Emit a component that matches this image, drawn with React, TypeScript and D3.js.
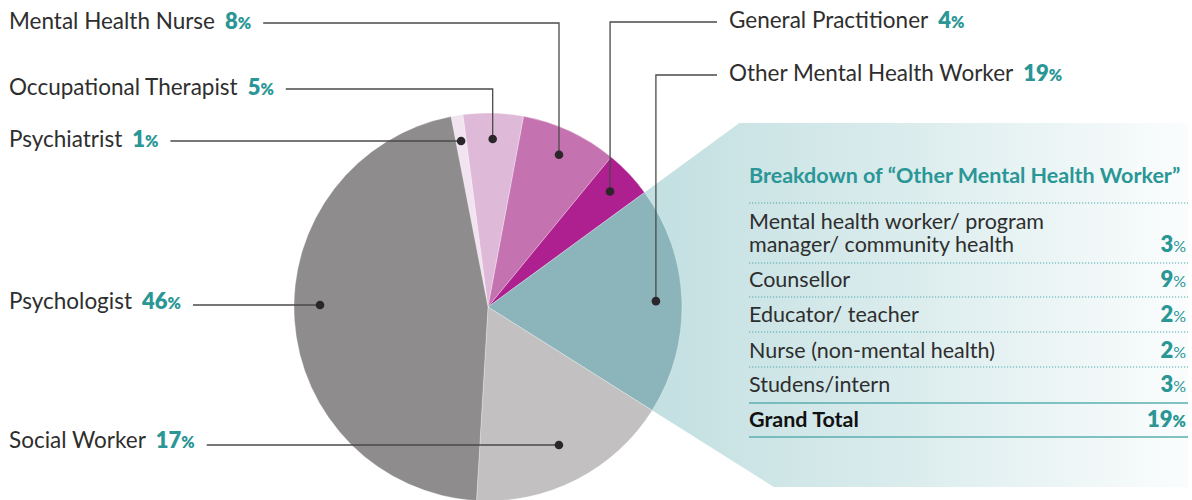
import React, { useEffect, useRef } from "react";
import * as d3 from "d3";

// ---------- data ----------
const categories = [
  "Psychiatrist",
  "Occupational Therapist",
  "Mental Health Nurse",
  "General Practitioner",
  "Other Mental Health Worker",
  "Social Worker",
  "Psychologist",
];
const shares = [1, 5, 8, 4, 19, 17, 46];

const breakdownTitle = "Breakdown of \u201COther Mental Health Worker\u201D";
const breakdownLabels = [
  ["Mental health worker/ program", "manager/ community health"],
  ["Counsellor"],
  ["Educator/ teacher"],
  ["Nurse (non-mental health)"],
  ["Studens/intern"],
];
const breakdownValues = [3, 9, 2, 2, 3];
const totalLabel = "Grand Total";
const totalValue = 19;

// ---------- styles / layout ----------
const sliceColors = ["#f1e3ef", "#dfb9d8", "#c573b0", "#ae1f8f", "#8bb5bb", "#c2c0c1", "#8e8c8d"];
const W = 1192;
const H = 500;
const CX = 488;
const CY = 307;
const R = 194;
const DOT_R = 168;
const START_DEG = -11;
const TEAL = "#2a9696";
const FONT = "Lato, 'Open Sans', sans-serif";
const TEXT_COLOR = "#2e2e2e";

// label layout per category (same order as categories)
const labelLayout = [
  { side: "left", baseline: 147, lineY: 141, mode: "h" },
  { side: "left", baseline: 95, lineY: 89, mode: "v" },
  { side: "left", baseline: 29, lineY: 23, mode: "v" },
  { side: "right", baseline: 28, lineY: 22, mode: "v" },
  { side: "right", baseline: 81, lineY: 75, mode: "v" },
  { side: "left", baseline: 448, lineY: 445, mode: "h" },
  { side: "left", baseline: 309, lineY: 305, mode: "h" },
];
const LEFT_X = 9;
const RIGHT_X = 729;

export default function App() {
  const ref = useRef<SVGSVGElement | null>(null);

  useEffect(() => {
    const svg = d3.select(ref.current);
    svg.selectAll("*").remove();

    const data = categories.map((c, i) => ({ name: c, value: shares[i], color: sliceColors[i], layout: labelLayout[i] }));
    const s = (START_DEG * Math.PI) / 180;
    const pie = d3
      .pie<any>()
      .sort(null)
      .value((d: any) => d.value)
      .startAngle(s)
      .endAngle(s + 2 * Math.PI);
    const arcs = pie(data);
    const arc = d3.arc<any>().innerRadius(0).outerRadius(R);

    // gradient
    const defs = svg.append("defs");
    const grad = defs
      .append("linearGradient")
      .attr("id", "panelGrad")
      .attr("gradientUnits", "userSpaceOnUse")
      .attr("x1", 640)
      .attr("x2", 1192)
      .attr("y1", 0)
      .attr("y2", 0);
    grad.append("stop").attr("offset", 0).attr("stop-color", "#c2dfe1");
    grad.append("stop").attr("offset", 0.45).attr("stop-color", "#d9ebec");
    grad.append("stop").attr("offset", 1).attr("stop-color", "#fbfdfd");

    // expanding panel from the "Other" slice
    const other = arcs[4];
    const panelTop = 123;
    const panelBottom = 487;
    const panelRight = 1188;
    const a1 = other.startAngle;
    const a2 = other.endAngle;
    const t1 = (CY - panelTop) / Math.cos(a1);
    const p1: [number, number] = [CX + t1 * Math.sin(a1), panelTop];
    const t2 = (panelBottom - CY) / -Math.cos(a2);
    const p2: [number, number] = [CX + t2 * Math.sin(a2), panelBottom];
    const poly = [[CX, CY], p1, [panelRight, panelTop], [panelRight, panelBottom], p2];
    svg
      .append("path")
      .attr("d", "M" + poly.map((p) => p.join(",")).join("L") + "Z")
      .attr("fill", "url(#panelGrad)");

    // pie
    svg
      .append("g")
      .attr("transform", `translate(${CX},${CY})`)
      .selectAll("path")
      .data(arcs)
      .join("path")
      .attr("d", arc as any)
      .attr("fill", (d: any) => d.data.color)
      .attr("stroke", "rgba(255,255,255,0.5)")
      .attr("stroke-width", 0.6);

    // labels + leaders
    const gl = svg.append("g");
    arcs.forEach((d: any) => {
      const L = d.data.layout;
      const mid = (d.startAngle + d.endAngle) / 2;
      let dot: [number, number];
      if (L.mode === "v") {
        dot = [CX + DOT_R * Math.sin(mid), CY - DOT_R * Math.cos(mid)];
      } else {
        const dy = L.lineY - CY;
        const t = dy / -Math.cos(mid);
        if (t > 0.6 * R && t < 0.92 * R) {
          dot = [CX + t * Math.sin(mid), L.lineY];
        } else {
          const dx = Math.sqrt(Math.max(0, DOT_R * DOT_R - dy * dy));
          dot = [CX + Math.sign(Math.sin(mid)) * dx, L.lineY];
        }
      }

      const tx = L.side === "left" ? LEFT_X : RIGHT_X;
      const text = gl
        .append("text")
        .attr("x", tx)
        .attr("y", L.baseline)
        .attr("font-family", FONT)
        .attr("font-size", 22.5)
        .attr("fill", TEXT_COLOR);
      text.append("tspan").attr("font-weight", 400).text(d.data.name);
      text
        .append("tspan")
        .attr("dx", 10)
        .attr("font-weight", 800)
        .attr("font-size", 22)
        .attr("fill", TEAL)
        .text(String(d.data.value));
      text
        .append("tspan")
        .attr("font-weight", 800)
        .attr("font-size", 16)
        .attr("fill", TEAL)
        .text("%");

      const bb = (text.node() as SVGTextElement).getBBox();
      const w = bb.x + bb.width - tx;
      let pts: [number, number][];
      if (L.side === "left") {
        const x0 = tx + w + 12;
        pts = L.mode === "v" ? [[x0, L.lineY], [dot[0], L.lineY], dot] : [[x0, L.lineY], dot];
      } else {
        const x0 = tx - 12;
        pts = [[x0, L.lineY], [dot[0], L.lineY], dot];
      }
      gl.append("path")
        .attr("d", d3.line()(pts) as string)
        .attr("fill", "none")
        .attr("stroke", "#4a4a4a")
        .attr("stroke-width", 1.3);
      gl.append("circle").attr("cx", dot[0]).attr("cy", dot[1]).attr("r", 4.3).attr("fill", "#2b262a");
    });

    // breakdown table
    const tb = svg.append("g");
    const TX0 = 749;
    const TX1 = 1188;
    tb.append("text")
      .attr("x", TX0)
      .attr("y", 183)
      .attr("font-family", FONT)
      .attr("font-size", 21.5)
      .attr("font-weight", 700)
      .attr("fill", TEAL)
      .text(breakdownTitle);

    const dotted = (y: number) =>
      tb
        .append("line")
        .attr("x1", TX0)
        .attr("x2", TX1)
        .attr("y1", y)
        .attr("y2", y)
        .attr("stroke", "#4fa9ad")
        .attr("stroke-width", 1.2)
        .attr("stroke-dasharray", "1.2,1.8");
    const solid = (y: number) =>
      tb
        .append("line")
        .attr("x1", TX0)
        .attr("x2", TX1)
        .attr("y1", y)
        .attr("y2", y)
        .attr("stroke", "#5aaeb2")
        .attr("stroke-width", 1.6);

    dotted(203);
    const rowBaselines = [252, 287, 322, 358, 392];
    const rowLines = [263, 297, 332, 367, 403];
    breakdownLabels.forEach((lines, i) => {
      const yb = rowBaselines[i];
      const t = tb
        .append("text")
        .attr("font-family", FONT)
        .attr("font-size", 21.5)
        .attr("font-weight", 400)
        .attr("fill", TEXT_COLOR);
      lines.forEach((ln, j) => {
        t.append("tspan")
          .attr("x", TX0)
          .attr("y", yb - (lines.length - 1 - j) * 23)
          .text(ln);
      });
      const vt = tb
        .append("text")
        .attr("x", TX1 - 2)
        .attr("y", yb)
        .attr("text-anchor", "end")
        .attr("font-family", FONT)
        .attr("fill", TEAL);
      vt.append("tspan").attr("font-size", 22).attr("font-weight", 800).text(String(breakdownValues[i]));
      vt.append("tspan").attr("font-size", 16).attr("font-weight", 400).text("%");
      if (i < breakdownLabels.length - 1) dotted(rowLines[i]);
      else solid(rowLines[i]);
    });
    tb.append("text")
      .attr("x", TX0)
      .attr("y", 427)
      .attr("font-family", FONT)
      .attr("font-size", 21.5)
      .attr("font-weight", 700)
      .attr("fill", "#111")
      .text(totalLabel);
    const tt = tb
      .append("text")
      .attr("x", TX1 - 2)
      .attr("y", 427)
      .attr("text-anchor", "end")
      .attr("font-family", FONT)
      .attr("fill", TEAL)
      .attr("font-weight", 800);
    tt.append("tspan").attr("font-size", 22).text(String(totalValue));
    tt.append("tspan").attr("font-size", 16).text("%");
    solid(437);
  }, []);

  return (
    <svg
      ref={ref}
      width={W}
      height={H}
      style={{ position: "absolute", left: 0, top: 0, display: "block", background: "#fff" }}
    />
  );
}
